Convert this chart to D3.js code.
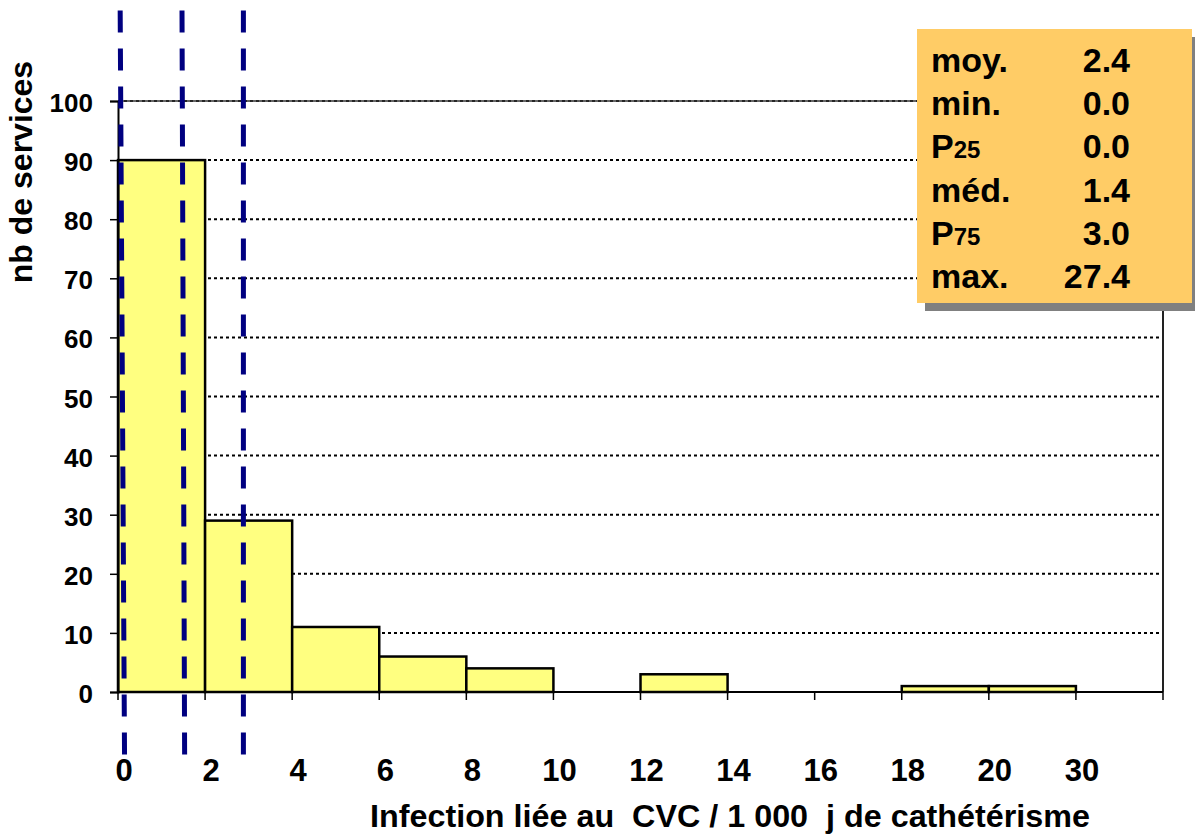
<!DOCTYPE html>
<html>
<head>
<meta charset="utf-8">
<script src="https://cdn.jsdelivr.net/npm/d3@7"></script>
<style>
  html, body { margin: 0; padding: 0; background: #fff; }
  svg { display: block; font-family: "Liberation Sans", Arial, sans-serif; font-weight: bold; }
</style>
</head>
<body>
<svg id="chart" width="1195" height="836"></svg>
<script>
// ---- data ----
const binLabels = ["0", "2", "4", "6", "8", "10", "12", "14", "16", "18", "20", "30"];
const binCounts = [90, 29, 11, 6, 4, 0, 3, 0, 0, 1, 1, 0];
const yTicks = [0, 10, 20, 30, 40, 50, 60, 70, 80, 90, 100];
// dashed reference lines (P25/min, median, P75) in x units, read at top and bottom of the picture
const markerTop = [0.05, 1.47, 2.88];
const markerBottom = [0.15, 1.53, 2.88];
const statNames = [["moy.", ""], ["min.", ""], ["P", "25"], ["méd.", ""], ["P", "75"], ["max.", ""]];
const statValues = ["2.4", "0.0", "0.0", "1.4", "3.0", "27.4"];
const yTitle = "nb de services";
const xTitle = "Infection liée au  CVC / 1 000  j de cathétérisme";

// ---- layout ----
const L = 118, R = 1163, T = 101, B = 692;
const svg = d3.select("#chart");

const x = d3.scaleBand().domain(d3.range(binCounts.length)).range([L, R]).padding(0);
const xLin = d3.scaleLinear().domain([0, binCounts.length * 2]).range([L, R]);
const y = d3.scaleLinear().domain([0, 100]).range([B, T]);

// gridlines (dotted)
svg.append("g").selectAll("line").data(yTicks.filter(d => d > 0)).join("line")
  .attr("x1", L).attr("x2", R).attr("y1", d => y(d)).attr("y2", d => y(d))
  .attr("stroke", "#000").attr("stroke-width", 2).attr("stroke-dasharray", "3,3");

// top and right border
svg.append("line").attr("x1", L).attr("x2", R).attr("y1", y(100)).attr("y2", y(100))
  .attr("stroke", "#333").attr("stroke-width", 1.5);
svg.append("line").attr("x1", R).attr("x2", R).attr("y1", y(100)).attr("y2", B)
  .attr("stroke", "#222").attr("stroke-width", 2);

// bars
svg.append("g").selectAll("rect").data(binCounts.map((v, i) => ({v, i})).filter(d => d.v > 0)).join("rect")
  .attr("x", d => x(d.i)).attr("width", x.bandwidth())
  .attr("y", d => y(d.v)).attr("height", d => y(0) - y(d.v))
  .attr("fill", "#FFFF80").attr("stroke", "#000").attr("stroke-width", 2.5);

// y axis
const yAxis = d3.axisLeft(y).tickValues(yTicks).tickSize(8).tickFormat("");
const gy = svg.append("g").attr("transform", `translate(${L},0)`).call(yAxis);
gy.select(".domain").attr("stroke", "#000").attr("stroke-width", 2);
gy.selectAll(".tick line").attr("stroke", "#000").attr("stroke-width", 1.5);
svg.append("g").selectAll("text").data(yTicks).join("text")
  .attr("x", 93).attr("y", d => y(d) + 11)
  .attr("text-anchor", "end").attr("font-size", 26).attr("fill", "#000")
  .text(d => d);

// x axis
const edges = d3.range(binCounts.length + 1);
const gx = svg.append("g");
gx.append("line").attr("x1", L).attr("x2", R).attr("y1", B).attr("y2", B)
  .attr("stroke", "#000").attr("stroke-width", 2);
gx.selectAll(".xt").data(edges).join("line").attr("class", "xt")
  .attr("x1", d => xLin(d * 2)).attr("x2", d => xLin(d * 2)).attr("y1", B).attr("y2", B + 8)
  .attr("stroke", "#000").attr("stroke-width", 1.5);
svg.append("g").selectAll("text").data(binLabels).join("text")
  .attr("x", (d, i) => x(i) + 6).attr("y", 781)
  .attr("text-anchor", "middle").attr("font-size", 31).attr("fill", "#000")
  .text(d => d);

// dashed marker lines
svg.append("g").selectAll("line").data(markerTop).join("line")
  .attr("x1", d => xLin(d)).attr("x2", (d, i) => xLin(markerBottom[i]))
  .attr("y1", y(115.3)).attr("y2", (d, i) => y(-10.8))
  .attr("stroke", "#000080").attr("stroke-width", 5)
  .attr("stroke-dasharray", "22,16");

// axis titles
svg.append("text").attr("transform", "translate(32,172) rotate(-90)")
  .attr("text-anchor", "middle").attr("font-size", 32).attr("fill", "#000").text(yTitle);
svg.append("text").attr("x", 370).attr("y", 827).style("white-space", "pre")
  .attr("font-size", 31).attr("textLength", 720).attr("lengthAdjust", "spacingAndGlyphs")
  .attr("fill", "#000").text(xTitle);

// stats box
const bx = 917, by = 29, bw = 275, bh = 274, sh = 8;
svg.append("rect").attr("x", bx + sh).attr("y", by + sh).attr("width", bw).attr("height", bh).attr("fill", "#808080");
svg.append("rect").attr("x", bx).attr("y", by).attr("width", bw).attr("height", bh).attr("fill", "#FFCC66");
const rowY = i => 72 + i * 43.2;
const lab = svg.append("g").selectAll("text").data(statNames).join("text")
  .attr("x", 931).attr("y", (d, i) => rowY(i)).attr("font-size", 34).attr("fill", "#000");
lab.append("tspan").text(d => d[0]);
lab.append("tspan").attr("font-size", 24).text(d => d[1]);
svg.append("g").selectAll("text").data(statValues).join("text")
  .attr("x", 1130).attr("y", (d, i) => rowY(i)).attr("text-anchor", "end")
  .attr("font-size", 34).attr("fill", "#000").text(d => d);
</script>
</body>
</html>
